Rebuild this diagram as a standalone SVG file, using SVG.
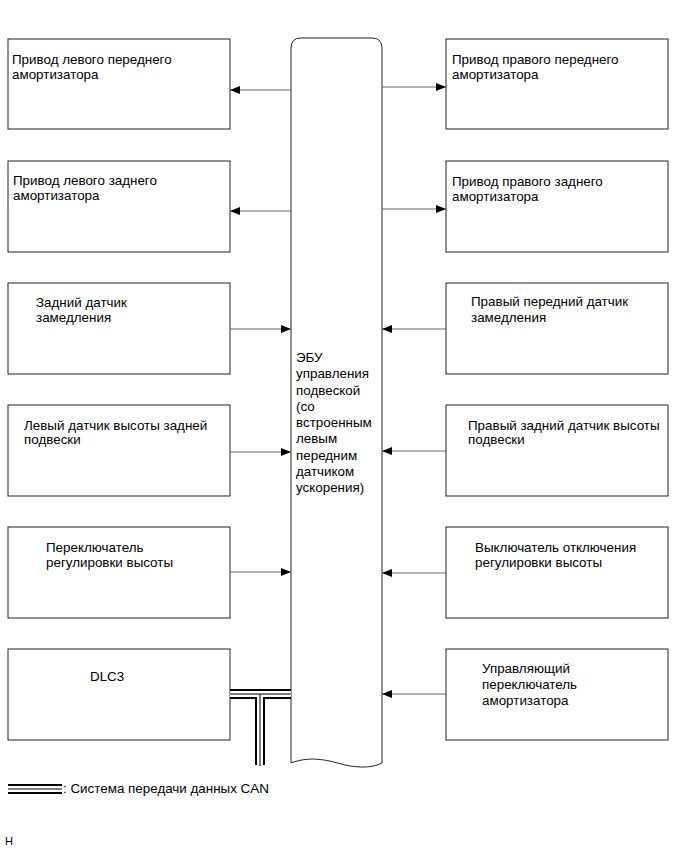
<svg xmlns="http://www.w3.org/2000/svg" width="691" height="855" viewBox="0 0 691 855">
<style>
.box{fill:#fff;stroke:#222;stroke-width:1}
.t{font-family:"Liberation Sans",Arial,sans-serif;font-size:13.4px;fill:#000}
.ln{stroke:#666;stroke-width:1;fill:none}
.cb{stroke:#000;stroke-width:10;fill:none}
.cw{stroke:#fff;stroke-width:6;fill:none}
.ct{stroke:#000;stroke-width:1;fill:none}
</style>
<defs>
<marker id="ah" viewBox="0 0 10 8" refX="10" refY="4" markerWidth="10" markerHeight="8" markerUnits="userSpaceOnUse" orient="auto">
<path d="M0,0 L10,4 L0,8 z" fill="#000"/>
</marker>
</defs>
<rect width="691" height="855" fill="#fff"/>

<g id="ecu">
<path class="box" d="M291,763 L291,48 Q291,38 301,38 L372,38 Q382,38 382,48 L382,763 C372,768 360,768 345,765 C330,761 312,755 291,763"/>
<text class="t"><tspan x="296" y="362">ЭБУ</tspan><tspan x="296" y="378">управления</tspan><tspan x="296" y="395">подвеской</tspan><tspan x="296" y="411">(со</tspan><tspan x="296" y="427">встроенным</tspan><tspan x="296" y="443">левым</tspan><tspan x="296" y="460">передним</tspan><tspan x="296" y="476">датчиком</tspan><tspan x="296" y="492">ускорения)</tspan></text>
</g>

<g id="lf"><rect class="box" x="8" y="39" width="222" height="90"/><text class="t"><tspan x="12" y="64">Привод левого переднего</tspan><tspan x="12" y="79">амортизатора</tspan></text></g>
<g id="rf"><rect class="box" x="446" y="39" width="222" height="90"/><text class="t"><tspan x="452" y="64">Привод правого переднего</tspan><tspan x="452" y="79">амортизатора</tspan></text></g>
<g id="lr"><rect class="box" x="8" y="161" width="222" height="91"/><text class="t"><tspan x="13" y="185">Привод левого заднего</tspan><tspan x="13" y="200">амортизатора</tspan></text></g>
<g id="rr"><rect class="box" x="446" y="161" width="222" height="91"/><text class="t"><tspan x="452" y="186">Привод правого заднего</tspan><tspan x="452" y="201">амортизатора</tspan></text></g>
<g id="rds"><rect class="box" x="8" y="283" width="222" height="91"/><text class="t"><tspan x="36" y="307">Задний датчик</tspan><tspan x="36" y="322">замедления</tspan></text></g>
<g id="rfds"><rect class="box" x="446" y="283" width="222" height="91"/><text class="t"><tspan x="471" y="306">Правый передний датчик</tspan><tspan x="471" y="322">замедления</tspan></text></g>
<g id="lhs"><rect class="box" x="8" y="405" width="222" height="91"/><text class="t"><tspan x="24" y="430">Левый датчик высоты задней</tspan><tspan x="24" y="444">подвески</tspan></text></g>
<g id="rhs"><rect class="box" x="446" y="405" width="222" height="91"/><text class="t"><tspan x="468" y="430">Правый задний датчик высоты</tspan><tspan x="468" y="444">подвески</tspan></text></g>
<g id="hsw"><rect class="box" x="8" y="527" width="222" height="91"/><text class="t"><tspan x="46" y="552">Переключатель</tspan><tspan x="46" y="567">регулировки высоты</tspan></text></g>
<g id="hoff"><rect class="box" x="446" y="527" width="222" height="91"/><text class="t"><tspan x="475" y="552">Выключатель отключения</tspan><tspan x="475" y="567">регулировки высоты</tspan></text></g>
<g id="dlc"><rect class="box" x="8" y="649" width="222" height="91"/><text class="t" x="90" y="681">DLC3</text></g>
<g id="asw"><rect class="box" x="446" y="649" width="222" height="91"/><text class="t"><tspan x="482" y="673">Управляющий</tspan><tspan x="482" y="689">переключатель</tspan><tspan x="482" y="705">амортизатора</tspan></text></g>

<g id="connectors">
<line class="ln" x1="291" y1="90" x2="230" y2="90" marker-end="url(#ah)"/>
<line class="ln" x1="382" y1="87" x2="446" y2="87" marker-end="url(#ah)"/>
<line class="ln" x1="291" y1="211" x2="230" y2="211" marker-end="url(#ah)"/>
<line class="ln" x1="382" y1="209" x2="446" y2="209" marker-end="url(#ah)"/>
<line class="ln" x1="230" y1="329" x2="291" y2="329" marker-end="url(#ah)"/>
<line class="ln" x1="446" y1="329" x2="382" y2="329" marker-end="url(#ah)"/>
<line class="ln" x1="230" y1="452" x2="291" y2="452" marker-end="url(#ah)"/>
<line class="ln" x1="446" y1="451" x2="382" y2="451" marker-end="url(#ah)"/>
<line class="ln" x1="230" y1="572" x2="291" y2="572" marker-end="url(#ah)"/>
<line class="ln" x1="446" y1="573" x2="382" y2="573" marker-end="url(#ah)"/>
<line class="ln" x1="446" y1="694" x2="382" y2="694" marker-end="url(#ah)"/>
<g id="can">
<path class="cb" d="M230,694 L291,694 M260,694 L260,765"/>
<path class="cw" d="M230,694 L291,694 M260,694 L260,767"/>
<path class="ct" d="M230,694 L291,694 M260,694 L260,766"/>
</g>
</g>

<g id="legend">
<path class="cb" d="M8,789 L62,789"/>
<path class="cw" d="M7,789 L63,789"/>
<path class="ct" d="M8,789 L62,789"/>
<text class="t" x="63" y="793">: Система передачи данных CAN</text>
<text class="t" x="5" y="845" style="font-size:11px">H</text>
</g>
</svg>
